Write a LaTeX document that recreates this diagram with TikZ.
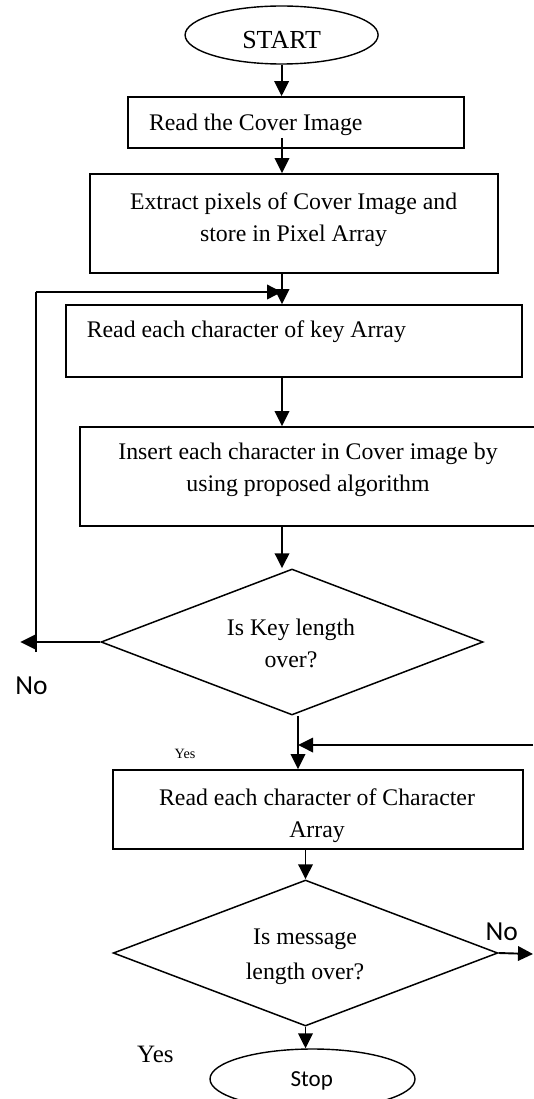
\documentclass[tikz,border=0pt]{standalone}
\usepackage{fontspec}
\setmainfont{Liberation Serif}
\newfontfamily\calib{Carlito}
\usetikzlibrary{arrows.meta,shapes.geometric}
\begin{document}
\begin{tikzpicture}[x=1pt,y=-1pt,
  arr/.style={line width=1.9pt,-{Triangle[length=15pt,width=14.5pt]}},
  ln/.style={line width=1.9pt},
  boxs/.style={draw,line width=1.8pt,rectangle,inner sep=0pt},
  ell/.style={draw,line width=1.4pt,ellipse,inner sep=0pt},
  dia/.style={draw,line width=1.5pt,diamond,inner sep=0pt},
  txt/.style={font=\fontsize{23.8}{32}\selectfont,inner sep=0pt,align=center},
  sans/.style={font=\calib\fontsize{27.5}{30}\selectfont,inner sep=0pt},
]
\useasboundingbox (0,0) rectangle (533,1099);
% shapes
\node[ell,minimum width=193pt,minimum height=58pt] (start) at (281.6,35) {};
\node[font=\fontsize{26}{30}\selectfont,inner sep=0pt] (startt) at (281.6,40) {START};

\node[boxs,minimum width=336.3pt,minimum height=51pt] (b1) at (295.9,122.5) {};
\node[txt,anchor=base west] (b1t) at (148.8,130.8) {Read the Cover Image};

\node[boxs,minimum width=408pt,minimum height=99pt] (b2) at (294,223.5) {};
\node[txt] (b2t) at (293.6,220) {Extract pixels of Cover Image and\\store in Pixel Array};

\node[boxs,minimum width=456.4pt,minimum height=72pt] (b3) at (293.8,341) {};
\node[txt,anchor=west] (b3t) at (86.6,332) {Read each character of key Array};

\node[boxs,minimum width=457pt,minimum height=99pt] (b4) at (308.4,476.5) {};
\node[txt] (b4t) at (308,470) {Insert each character in Cover image by\\using proposed algorithm};

\node[dia,minimum width=382pt,minimum height=146pt] (d1) at (292,642) {};
\node[txt] (d1t) at (291,643) {Is Key length\\over?};

\node[boxs,minimum width=409.7pt,minimum height=79pt] (b5) at (317.9,809.5) {};
\node[txt] (b5t) at (317,816) {Read each character of Character\\Array};

\node[dia,minimum width=384.6pt,minimum height=146pt] (d2) at (305.5,953) {};
\node[txt,font=\fontsize{23.8}{35}\selectfont] (d2t) at (305,957) {Is message\\length over?};

\node[ell,minimum width=205pt,minimum height=60pt] (stop) at (312.5,1079) {};
\node[font=\calib\fontsize{23}{26}\selectfont,inner sep=0pt] (stopt) at (311.7,1081) {Stop};

% labels
\node[sans] (no1) at (31.4,686) {No};
\node[font=\fontsize{14.2}{16}\selectfont,inner sep=0pt] (yes1) at (185,753.6) {Yes};
\node[sans] (no2) at (501.7,932) {No};
\node[font=\fontsize{25}{28}\selectfont,inner sep=0pt] (yes2) at (155.4,1054) {Yes};

% helper coordinates
\coordinate (p1) at (282,138);
\coordinate (p2) at (298,0);
\coordinate (loopL) at (35.7,292);
\coordinate (loopB) at (35.7,652);
\coordinate (noTip) at (20.4,642);
\coordinate (fbR) at (533,745);
\coordinate (noR) at (533,954);

% connectors
\draw[arr] (start.south) -- (start.south |- b1.north);
\draw[arr] (p1) -- (p1 |- b2.north);
\draw[arr] (p1 |- b2.south) -- (p1 |- b3.north);
\draw[ln] (loopB) -- (loopL);
\draw[arr] (loopL) -- (p1 |- loopL);
\draw[arr] (p1 |- b3.south) -- (p1 |- b4.north);
\draw[arr] (p1 |- b4.south) -- (p1 |- d1.north);
\draw[arr] (d1.west) -- (noTip);
\draw[arr] (p2 |- d1.south) -- (p2 |- b5.north);
\draw[arr] (fbR) -- (p2 |- fbR);
\draw[arr] (d2.north |- b5.south) -- (d2.north);
\draw[arr] (d2.east) -- (noR);
\draw[arr] (d2.south) -- (d2.south |- stop.north);
\end{tikzpicture}
\end{document}
